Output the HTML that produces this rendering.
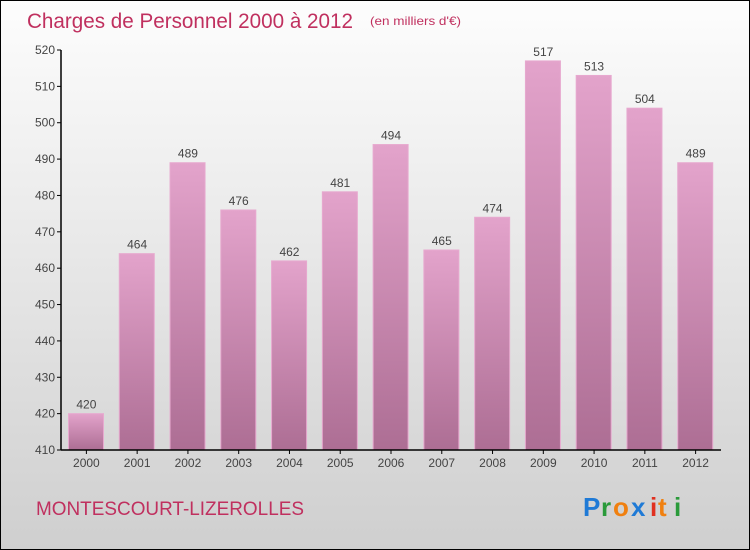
<!DOCTYPE html>
<html><head><meta charset="utf-8"><style>
body{margin:0}
#wrap{position:relative;width:748px;height:548px;border:1px solid #000;background:linear-gradient(#fdfdfd,#cfcfcf);font-family:"Liberation Sans",sans-serif;overflow:hidden}
</style></head><body>
<div id="wrap">
<svg width="748" height="548">
<defs><linearGradient id="bg" x1="0" y1="0" x2="0" y2="1"><stop offset="0" stop-color="#e3a3cb"/><stop offset="1" stop-color="#ad6e94"/></linearGradient></defs>
<text x="26" y="27" font-size="21" fill="#c0305f" textLength="326" lengthAdjust="spacingAndGlyphs">Charges de Personnel 2000 à 2012</text>
<text x="369" y="24" font-size="12" fill="#c0305f" textLength="91" lengthAdjust="spacingAndGlyphs">(en milliers d'€)</text>
<text x="35" y="514" font-size="19" fill="#c0305f" textLength="268" lengthAdjust="spacingAndGlyphs">MONTESCOURT-LIZEROLLES</text>
<g font-size="26" font-weight="bold" font-family="'Liberation Sans',sans-serif">
<text x="582" y="515" fill="#1f7ad6">P</text><text x="600" y="515" fill="#2a9a3a">r</text><text x="612" y="515" fill="#f08010">o</text><text x="630" y="515" fill="#1f7ad6">x</text><text x="649" y="515" fill="#e03020">i</text><text x="657" y="515" fill="#f08010">t</text><text x="673" y="515" fill="#2a9a3a">i</text>
</g>
<g id="bars"></g><g id="axes"></g>
</svg></div>
<script>
const years=["2000","2001","2002","2003","2004","2005","2006","2007","2008","2009","2010","2011","2012"];
const values=[420,464,489,476,462,481,494,465,474,517,513,504,489];
const yTicks=[410,420,430,440,450,460,470,480,490,500,510,520];
const NS="http://www.w3.org/2000/svg";
const x0=60,x1=720,yTop=49,yBot=449,vMin=410,vMax=520;
const band=(x1-x0)/years.length;
const y=v=>yBot-(v-vMin)/(vMax-vMin)*(yBot-yTop);
const xb=i=>x0+i*band;
function mk(t,a,p){const e=document.createElementNS(NS,t);for(const k in a)e.setAttribute(k,a[k]);p.appendChild(e);return e;}
const bars=document.getElementById('bars'),axes=document.getElementById('axes');
values.forEach((v,i)=>{
 const r=mk('rect',{x:xb(i)+7.5,y:y(v),width:35,height:yBot-y(v),fill:'url(#bg)',stroke:'#e7a9cf','stroke-width':1},bars);
 
 
 const t=mk('text',{x:xb(i)+band/2,y:y(v)-5,'text-anchor':'middle','font-size':12,fill:'#444'},bars);
 t.textContent=v;
 
 
 const xl=mk('text',{x:xb(i)+band/2,y:yBot+17,'text-anchor':'middle','font-size':12,fill:'#444'},axes);
 xl.textContent=years[i];
 
 
 mk('line',{x1:xb(i)+band/2,x2:xb(i)+band/2,y1:yBot,y2:yBot+4,stroke:'#000'},axes);
});
yTicks.forEach(v=>{
 mk('line',{x1:x0-4,x2:x0,y1:y(v),y2:y(v),stroke:'#000'},axes);
 const t=mk('text',{x:x0-6,y:y(v)+4,'text-anchor':'end','font-size':12,fill:'#444'},axes);
 t.textContent=v;
 
 
});
const ya=mk('line',{x1:x0,x2:x0,y1:yTop,y2:yBot,stroke:'#000','stroke-width':1.5},axes);


const xa=mk('line',{x1:x0,x2:x1,y1:yBot,y2:yBot,stroke:'#000','stroke-width':1.5},axes);


</script>
</body></html>
